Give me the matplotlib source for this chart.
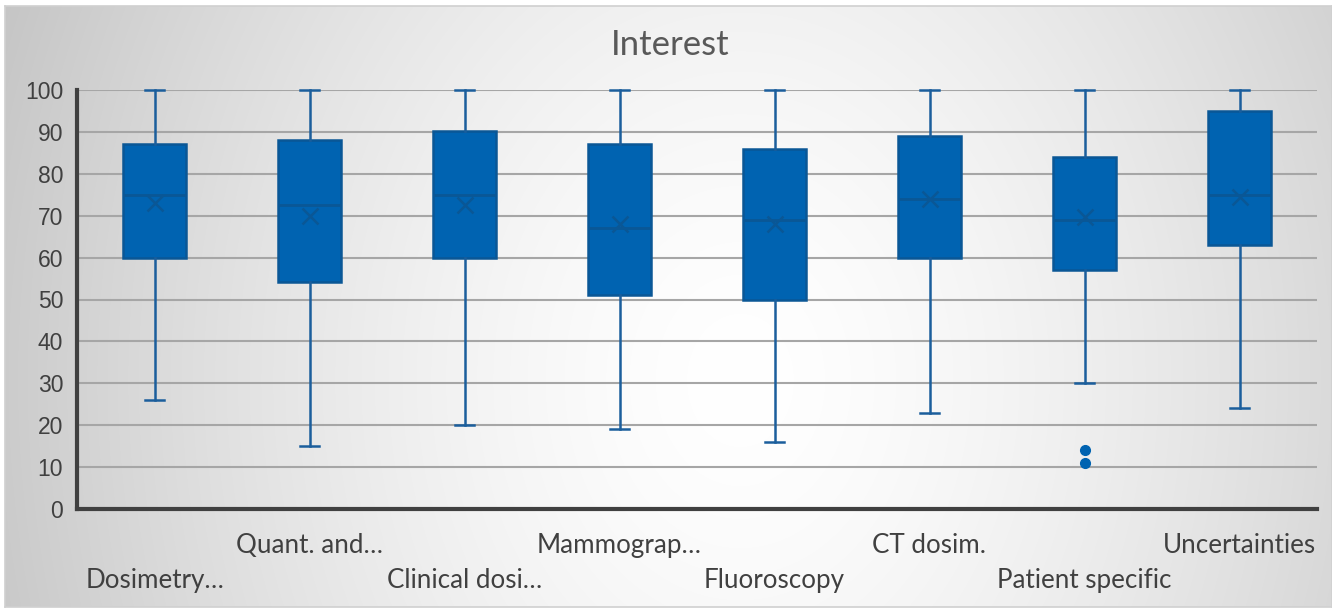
import numpy as np
import matplotlib
matplotlib.use('Agg')
import matplotlib.pyplot as plt
from matplotlib.transforms import blended_transform_factory

# ── data ─────────────────────────────────────────────────────────────────────
categories = ['Dosimetry…', 'Quant. and…', 'Clinical dosi…', 'Mammograp…',
              'Fluoroscopy', 'CT dosim.', 'Patient specific', 'Uncertainties']
whisker_lo = [26, 15, 20, 19, 16, 23, 30, 24]
q1         = [60, 54.2, 60, 51, 50, 60, 57, 63]
medians    = [75, 72.6, 75, 67, 69, 74, 69, 75]
q3         = [87, 88, 90.3, 87, 86, 89, 84, 95]
whisker_hi = [100, 100, 100, 100, 100, 100, 100, 100]
means      = [73, 70, 72.6, 68, 68, 74, 69.7, 74.5]
outliers   = [[], [], [], [], [], [], [14, 11], []]
yticks = list(range(0, 101, 10))

W, H = 1332, 610
fig = plt.figure(figsize=(W / 100, H / 100), dpi=100)
fig.patch.set_facecolor('white')

# ── radial gradient background ───────────────────────────────────────────────
bx0, by0, bx1, by1 = 5, 6, 1332, 607
bg = fig.add_axes([bx0 / W, 1 - by1 / H, (bx1 - bx0) / W, (by1 - by0) / H], zorder=0)
gx, gy = np.meshgrid(np.arange(bx0, bx1), np.arange(by0, by1))
cx, cy = 740, 380
d = np.sqrt((gx - cx) ** 2 + ((gy - cy) * 0.8) ** 2)
d = np.clip(d / 780, 0, 1.1)
shade = 1.0 - 0.22 * d ** 1.5
bg.imshow(np.dstack([shade, shade, shade]), aspect='auto', extent=[0, 1, 0, 1])
bg.set_xticks([]); bg.set_yticks([])
for s in bg.spines.values():
    s.set_color('#d0d0d0'); s.set_linewidth(1.2)

# ── main axes ────────────────────────────────────────────────────────────────
ax = fig.add_axes([77 / W, 1 - 509 / H, (1317 - 77) / W, (509 - 90) / H], zorder=1)
ax.patch.set_alpha(0)

box_c = '#0063b1'
edge_c = '#0a5796'
stats = []
for i in range(len(categories)):
    stats.append(dict(med=medians[i], q1=q1[i], q3=q3[i], whislo=whisker_lo[i],
                      whishi=whisker_hi[i], mean=means[i], fliers=outliers[i], label=''))

pos = np.arange(len(categories))
ax.bxp(stats, positions=pos, widths=0.41, patch_artist=True, showmeans=True,
       boxprops=dict(facecolor=box_c, edgecolor=edge_c, linewidth=1.8),
       medianprops=dict(color=edge_c, linewidth=2),
       whiskerprops=dict(color='#1b5e9c', linewidth=1.8),
       capprops=dict(color='#1b5e9c', linewidth=1.8),
       capwidths=0.12,
       meanprops=dict(marker='x', markeredgecolor=edge_c, markersize=12, markeredgewidth=1.8),
       flierprops=dict(marker='o', markerfacecolor=box_c, markeredgecolor=box_c, markersize=7))
for art in ax.lines:
    art.set_clip_on(False)

ax.set_xlim(-0.5, len(categories) - 0.5)
ax.set_ylim(0, 100)
ax.set_yticks(yticks)
ax.set_yticklabels([str(v) for v in yticks], fontsize=16.5, color='#404040',
                   family='Liberation Sans')
ax.tick_params(axis='y', length=0, pad=10)
ax.set_xticks([])
ax.yaxis.grid(True, color='#a6a6a6', linewidth=1.5)
ax.set_axisbelow(True)
for side in ['top', 'right']:
    ax.spines[side].set_visible(False)
for side in ['left', 'bottom']:
    ax.spines[side].set_color('#404040')
    ax.spines[side].set_linewidth(3)

# category labels in two staggered rows
tr = blended_transform_factory(ax.transData, ax.transAxes)
for i, lab in enumerate(categories):
    yy = -0.086 if i % 2 else -0.17
    ax.text(i, yy, lab, transform=tr, ha='center', va='center', fontsize=18.7,
            color='#404040', family='Lato')

fig.text(670 / W, 1 - 45 / H, 'Interest', ha='center', va='center', fontsize=25,
         color='#595959', family='Lato')

fig.savefig('out.png', dpi=100)
